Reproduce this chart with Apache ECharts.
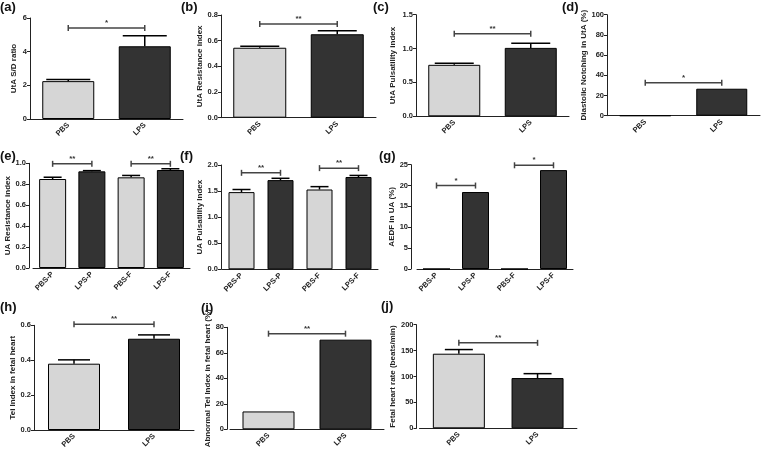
<!DOCTYPE html>
<html>
<head>
<meta charset="utf-8">
<script src="https://cdn.jsdelivr.net/npm/echarts@6/dist/echarts.min.js"></script>
<style>html,body{margin:0;padding:0;background:#fff}#c{width:763px;height:455px}</style>
</head>
<body>
<div id="c"></div>
<script>
// ---------- DATA ----------
const catsTwo = ['PBS', 'LPS'];
const catsFour = ['PBS-P', 'LPS-P', 'PBS-F', 'LPS-F'];

const aMean = [2.25, 4.32];   const aSem = [0.09, 0.63];
const bMean = [0.545, 0.65];  const bSem = [0.012, 0.027];
const cMean = [0.76, 1.01];   const cSem = [0.025, 0.07];
const dVal  = [0, 26.7];
const eMean = [0.85, 0.923, 0.866, 0.936]; const eSem = [0.017, 0.007, 0.018, 0.012];
const fMean = [1.48, 1.71, 1.53, 1.77];    const fSem = [0.05, 0.035, 0.055, 0.03];
const gVal  = [0, 18.45, 0, 23.7];
const hMean = [0.38, 0.523];  const hSem = [0.022, 0.022];
const iVal  = [14, 70.3];
const jMean = [144, 97];      const jSem = [8, 8.5];

// significance brackets: [fromCat, toCat, yValue], labels
const aSig = [[0, 1, 5.4]];    const aSigLab = ['*'];
const bSig = [[0, 1, 0.73]];   const bSigLab = ['**'];
const cSig = [[0, 1, 1.22]];   const cSigLab = ['**'];
const dSig = [[0, 1, 32.7]];   const dSigLab = ['*'];
const eSig = [[0, 1, 0.995], [2, 3, 0.995]]; const eSigLab = ['**', '**'];
const fSig = [[0, 1, 1.85], [2, 3, 1.94]];   const fSigLab = ['**', '**'];
const gSig = [[0, 1, 20], [2, 3, 24.86]];    const gSigLab = ['*', '*'];
const hSig = [[0, 1, 0.606]];  const hSigLab = ['**'];
const iSig = [[0, 1, 75]];     const iSigLab = ['**'];
const jSig = [[0, 1, 165]];    const jSigLab = ['**'];

// y-axis ticks [min, max, interval]
const aTicks = [0, 6, 2]; const bTicks = [0, 0.8, 0.2]; const cTicks = [0, 1.5, 0.5];
const dTicks = [0, 100, 20]; const eTicks = [0, 1.0, 0.2]; const fTicks = [0, 2.0, 0.5];
const gTicks = [0, 25, 5]; const hTicks = [0, 0.6, 0.2]; const iTicks = [0, 80, 20];
const jTicks = [0, 200, 50];

// ---------- PANELS ----------
const panels = [
  {letter:'(a)', cats:catsTwo, mean:aMean, sem:aSem, sig:aSig, sigLab:aSigLab, ticks:aTicks, dec:0, title:'UtA S/D ratio'},
  {letter:'(b)', cats:catsTwo, mean:bMean, sem:bSem, sig:bSig, sigLab:bSigLab, ticks:bTicks, dec:1, title:'UtA Resistance index'},
  {letter:'(c)', cats:catsTwo, mean:cMean, sem:cSem, sig:cSig, sigLab:cSigLab, ticks:cTicks, dec:1, title:'UtA Pulsatility index'},
  {letter:'(d)', cats:catsTwo, mean:dVal, sem:null, sig:dSig, sigLab:dSigLab, ticks:dTicks, dec:0, title:'Diastolic Notching in UtA (%)'},
  {letter:'(e)', cats:catsFour, mean:eMean, sem:eSem, sig:eSig, sigLab:eSigLab, ticks:eTicks, dec:1, title:'UA Resistance index'},
  {letter:'(f)', cats:catsFour, mean:fMean, sem:fSem, sig:fSig, sigLab:fSigLab, ticks:fTicks, dec:1, title:'UA Pulsatility Index'},
  {letter:'(g)', cats:catsFour, mean:gVal, sem:null, sig:gSig, sigLab:gSigLab, ticks:gTicks, dec:0, title:'AEDF in UA (%)'},
  {letter:'(h)', cats:catsTwo, mean:hMean, sem:hSem, sig:hSig, sigLab:hSigLab, ticks:hTicks, dec:1, title:'Tei Index in fetal heart'},
  {letter:'(i)', cats:catsTwo, mean:iVal, sem:null, sig:iSig, sigLab:iSigLab, ticks:iTicks, dec:0, title:'Abnormal Tei Index in fetal heart (%)'},
  {letter:'(j)', cats:catsTwo, mean:jMean, sem:jSem, sig:jSig, sigLab:jSigLab, ticks:jTicks, dec:0, title:'Fetal heart rate (beats/min)'}
];

// ---------- LAYOUT / STYLE ----------
const layout = [
  {x:30,  y:18,    w:153, h:101,   bw:52, off:0, gap:12, cap:44, lx:0,   ly:14},
  {x:221, y:15,    w:155, h:102.7, bw:53, off:0, gap:16, cap:39, lx:181, ly:14},
  {x:416, y:14.7,  w:153, h:101.6, bw:52, off:0, gap:19, cap:39, lx:373, ly:14},
  {x:607, y:14.7,  w:153, h:101,   bw:51, off:0, gap:18, cap:39, lx:562, ly:14},
  {x:33,  y:163.3, w:157, h:104.7, bw:27, off:4, gap:13, cap:18, lx:0,   ly:163},
  {x:222, y:165,   w:156, h:104.3, bw:26, off:1, gap:15, cap:18, lx:180, ly:163},
  {x:417, y:164.7, w:156, h:104.3, bw:27, off:6, gap:11, cap:18, lx:379, ly:163},
  {x:34,  y:325.3, w:160, h:104.7, bw:52, off:0, gap:17, cap:32, lx:0,   ly:314},
  {x:230, y:327.3, w:154, h:102,   bw:52, off:3, gap:12, cap:32, lx:201, ly:315},
  {x:419.5,y:324.7,w:157.4,h:103.6,bw:52, off:3, gap:15, cap:28, lx:381, ly:313}
];

const FONT = '"Liberation Sans", Arial, sans-serif';
const LIGHT = '#d6d6d6', DARK = '#333333', AXIS = '#222';

const grids = [], xAxes = [], yAxes = [], series = [], graphics = [];

panels.forEach((p, k) => {
  const L = layout[k];
  grids.push({left:L.x, top:L.y, width:L.w, height:L.h, containLabel:false});
  xAxes.push({
    type:'category', gridIndex:k, data:p.cats,
    axisLine:{lineStyle:{color:AXIS, width:1}},
    axisTick:{alignWithLabel:true, length:3, lineStyle:{color:AXIS}},
    axisLabel:{rotate:45, fontSize:7.5, fontWeight:'bold', color:'#222', fontFamily:FONT, margin:5, interval:0}
  });
  yAxes.push({
    type:'value', gridIndex:k, min:p.ticks[0], max:p.ticks[1], interval:p.ticks[2], offset:L.off,
    name:p.title, nameLocation:'middle', nameGap:L.gap, nameRotate:90,
    nameTextStyle:{fontSize:8, fontWeight:'bold', color:'#222', fontFamily:FONT},
    axisLine:{show:true, lineStyle:{color:AXIS, width:1}},
    axisTick:{show:true, length:3, lineStyle:{color:AXIS}},
    splitLine:{show:false},
    axisLabel:{fontSize:7.5, fontWeight:'bold', color:'#222', fontFamily:FONT, margin:3,
      formatter: v => v.toFixed(p.dec)}
  });
  series.push({
    type:'bar', xAxisIndex:k, yAxisIndex:k, barWidth:L.bw,
    data:p.mean.map((v, i) => ({value:v, itemStyle:{color: p.cats[i].startsWith('PBS') ? LIGHT : DARK}})),
    itemStyle:{borderColor:'#000', borderWidth:1}, silent:true, z:2
  });
  if (p.sem) {
    const cap = L.cap;
    series.push({
      type:'custom', xAxisIndex:k, yAxisIndex:k, z:3, silent:true,
      data:p.mean.map((v, i) => [i, v, v + p.sem[i]]),
      renderItem:(params, api) => {
        const b = api.coord([api.value(0), api.value(1)]);
        const t = api.coord([api.value(0), api.value(2)]);
        const st = {stroke:'#000', lineWidth:1.5};
        return {type:'group', children:[
          {type:'line', shape:{x1:b[0], y1:b[1], x2:t[0], y2:t[1]}, style:st},
          {type:'line', shape:{x1:t[0]-cap/2, y1:t[1], x2:t[0]+cap/2, y2:t[1]}, style:st}
        ]};
      }
    });
  }
  const labs = p.sigLab;
  series.push({
    type:'custom', xAxisIndex:k, yAxisIndex:k, z:4, silent:true, clip:false,
    data:p.sig,
    renderItem:(params, api) => {
      const a = api.coord([api.value(0), api.value(2)]);
      const b = api.coord([api.value(1), api.value(2)]);
      const st = {stroke:'#444', lineWidth:1.5};
      return {type:'group', children:[
        {type:'line', shape:{x1:a[0], y1:a[1], x2:b[0], y2:b[1]}, style:st},
        {type:'line', shape:{x1:a[0], y1:a[1]-3, x2:a[0], y2:a[1]+3}, style:st},
        {type:'line', shape:{x1:b[0], y1:b[1]-3, x2:b[0], y2:b[1]+3}, style:st},
        {type:'text', x:(a[0]+b[0])/2, y:a[1]-1, style:{text:labs[params.dataIndex], fill:'#333',
          font:'bold 8px ' + FONT, textAlign:'center', textVerticalAlign:'bottom'}}
      ]};
    }
  });
  graphics.push({type:'text', left:L.lx, top:L.ly - 13, style:{text:p.letter, fill:'#111', font:'bold 13px ' + FONT}});
});

const chart = echarts.init(document.getElementById('c'), null, {renderer:'canvas'});
chart.setOption({
  animation:false, backgroundColor:'#fff',
  grid:grids, xAxis:xAxes, yAxis:yAxes, series:series, graphic:graphics
});
</script>
</body>
</html>
